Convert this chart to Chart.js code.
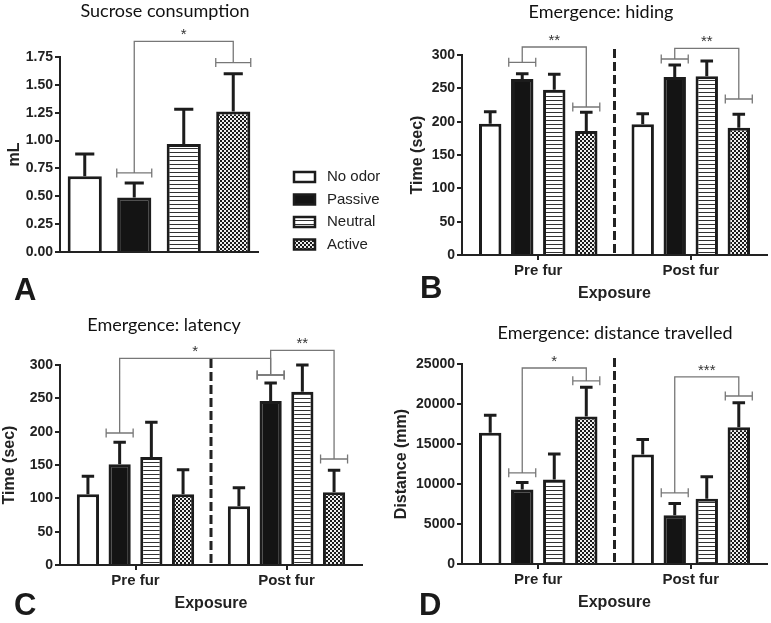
<!DOCTYPE html>
<html lang="en">
<head>
<meta charset="UTF-8" />
<title>Odor exposure – sucrose and emergence tests</title>
<script src="https://cdn.jsdelivr.net/npm/chart.js"></script>
<style>
  body { margin: 0; background: #fff; }
  .figure { position: relative; width: 771px; height: 623px; }
  .figure canvas { position: absolute; }
</style>
</head>
<body>
<div class="figure">
  <canvas id="chartA" width="385" height="310" style="left:0;top:0"></canvas>
  <canvas id="chartB" width="391" height="310" style="left:380px;top:0"></canvas>
  <canvas id="chartC" width="385" height="313" style="left:0;top:310px"></canvas>
  <canvas id="chartD" width="391" height="313" style="left:380px;top:310px"></canvas>
</div>
<script>
  const groups = ['No odor', 'Passive', 'Neutral', 'Active'];
  const exposures = ['Pre fur', 'Post fur'];

  // A - sucrose consumption (mL), one bar per group
  const sucroseMean = [0.68, 0.49, 0.97, 1.26];
  const sucroseErr = [0.20, 0.13, 0.31, 0.34];
  const sucroseTicks = [0, 0.25, 0.5, 0.75, 1, 1.25, 1.5, 1.75];

  // B - hiding time (sec), one row per group: [pre fur, post fur]
  const hidingMean = [[197, 196], [264, 267], [248, 268], [186, 191]];
  const hidingErr = [[18, 16], [8, 18], [23, 23], [28, 20]];
  const hidingTicks = [0, 50, 100, 150, 200, 250, 300];

  // C - latency (sec)
  const latencyMean = [[106, 88], [151, 246], [162, 260], [106, 109]];
  const latencyErr = [[27, 28], [33, 27], [52, 40], [37, 33]];
  const latencyTicks = [0, 50, 100, 150, 200, 250, 300];

  // D - distance travelled (mm)
  const distanceMean = [[16400, 13700], [9300, 6100], [10550, 8150], [18450, 17100]];
  const distanceErr = [[2200, 1850], [900, 1450], [3200, 2750], [3650, 3050]];
  const distanceTicks = [0, 5000, 10000, 15000, 20000, 25000];

  // significance brackets: ends are [group, exposure], levels in data units
  const sucroseSig = [{ from: [1, 0], to: [3, 0], capFrom: 0.71, capTo: 1.70, top: 1.89, label: '*' }];
  const hidingSig = [
    { from: [1, 0], to: [3, 0], capFrom: 289, capTo: 222, top: 312, label: '**' },
    { from: [1, 1], to: [3, 1], capFrom: 294, capTo: 234, top: 310, label: '**' }
  ];
  const latencySig = [
    { from: [1, 0], to: [1, 1], capFrom: 198, capTo: 285, top: 310, label: '*' },
    { from: [1, 1], to: [3, 1], capFrom: 285, capTo: 159, top: 322, label: '**' }
  ];
  const distanceSig = [
    { from: [1, 0], to: [3, 0], capFrom: 11400, capTo: 22900, top: 24500, label: '*' },
    { from: [1, 1], to: [3, 1], capFrom: 8900, capTo: 21000, top: 23400, label: '***' }
  ];

  const SANS = 'Arial, "Liberation Sans", Helvetica, sans-serif';
  Chart.defaults.font.family = SANS;
  Chart.defaults.color = '#222';

  function makePattern(w, h, draw) {
    const c = document.createElement('canvas');
    c.width = w; c.height = h;
    draw(c.getContext('2d'));
    return c.getContext('2d').createPattern(c, 'repeat');
  }
  const stripes = makePattern(1, 4, g => {
    g.fillStyle = '#fff'; g.fillRect(0, 0, 1, 4);
    g.fillStyle = '#333'; g.fillRect(0, 0, 1, 1);
  });
  const checks = makePattern(4, 4, g => {
    g.fillStyle = '#eee'; g.fillRect(0, 0, 4, 4);
    g.fillStyle = '#1a1a1a'; g.fillRect(0, 0, 2, 2); g.fillRect(2, 2, 2, 2);
  });
  const fills = ['#ffffff', '#141414', stripes, checks];

  const errorBars = {
    id: 'errorBars',
    afterDatasetsDraw(chart) {
      const ctx = chart.ctx, y = chart.scales.y;
      ctx.save();
      ctx.strokeStyle = '#1c1c1c';
      ctx.lineWidth = 3;
      chart.data.datasets.forEach((ds, i) => {
        chart.getDatasetMeta(i).data.forEach((bar, j) => {
          const top = y.getPixelForValue(ds.data[j] + ds.errors[j]);
          const half = bar.width * 0.28;
          ctx.beginPath();
          ctx.moveTo(bar.x, bar.y);
          ctx.lineTo(bar.x, top);
          ctx.moveTo(bar.x - half, top);
          ctx.lineTo(bar.x + half, top);
          ctx.stroke();
        });
      });
      ctx.restore();
    }
  };

  // titles, panel letter, divider, brackets and (for A) the legend
  function marks(cfg) {
    return {
      id: 'marks',
      afterDraw(chart) {
        const ctx = chart.ctx, xs = chart.scales.x, ys = chart.scales.y;
        ctx.save();

        if (cfg.divider) {
          const dx = (xs.getPixelForValue(0) + xs.getPixelForValue(1)) / 2;
          ctx.strokeStyle = '#222';
          ctx.lineWidth = 3;
          ctx.setLineDash([9, 4]);
          ctx.beginPath();
          ctx.moveTo(dx, ys.top - 6);
          ctx.lineTo(dx, ys.bottom);
          ctx.stroke();
          ctx.setLineDash([]);
        }

        const barAt = ([d, c]) => chart.getDatasetMeta(d).data[c];
        ctx.lineWidth = 1.3;
        ctx.strokeStyle = '#777';
        cfg.sig.forEach(s => {
          const a = barAt(s.from), b = barAt(s.to);
          const ya = ys.getPixelForValue(s.capFrom);
          const yb = ys.getPixelForValue(s.capTo);
          const yt = ys.getPixelForValue(s.top);
          ctx.beginPath();
          [[a.x, ya], [b.x, yb]].forEach(([x, y]) => {
            const h = cfg.capW / 2;
            ctx.moveTo(x - h, y); ctx.lineTo(x + h, y);
            ctx.moveTo(x - h, y - 4.5); ctx.lineTo(x - h, y + 4.5);
            ctx.moveTo(x + h, y - 4.5); ctx.lineTo(x + h, y + 4.5);
          });
          ctx.moveTo(a.x, ya);
          ctx.lineTo(a.x, yt);
          ctx.lineTo(b.x, yt);
          ctx.lineTo(b.x, yb);
          ctx.stroke();

          ctx.fillStyle = '#333';
          ctx.font = '15px ' + SANS;
          ctx.textAlign = 'center';
          ctx.textBaseline = 'alphabetic';
          const m = ctx.measureText(s.label);
          ctx.fillText(s.label, (a.x + b.x) / 2, yt - 6 - m.actualBoundingBoxDescent);
        });

        ctx.fillStyle = '#111';
        ctx.textAlign = 'center';
        ctx.textBaseline = 'alphabetic';
        ctx.font = '18px Lato, sans-serif';
        ctx.fillText(cfg.title, cfg.titleX, cfg.titleY);

        ctx.textAlign = 'left';
        ctx.font = 'bold 31px ' + SANS;
        ctx.fillStyle = '#1a1a1a';
        ctx.fillText(cfg.letter, cfg.letterX, cfg.letterY);

        if (cfg.legend) {
          ctx.font = '15px ' + SANS;
          ctx.textBaseline = 'middle';
          chart.data.datasets.forEach((ds, i) => {
            const y = 177 + i * 22.5;
            ctx.fillStyle = ds.backgroundColor;
            ctx.fillRect(294, y - 5, 21, 10);
            ctx.strokeStyle = '#1c1c1c';
            ctx.lineWidth = 2.5;
            ctx.strokeRect(294, y - 5, 21, 10);
            ctx.fillStyle = '#222';
            ctx.fillText(ds.label, 327, y);
          });
        }
        ctx.restore();
      }
    };
  }

  function panelChart(id, cfg) {
    const datasets = groups.map((g, i) => ({
      label: g,
      data: cfg.mean[i],
      errors: cfg.err[i],
      backgroundColor: fills[i],
      borderColor: '#1c1c1c',
      borderWidth: 3,
      categoryPercentage: cfg.catPct,
      barPercentage: cfg.barPct
    }));

    return new Chart(document.getElementById(id), {
      type: 'bar',
      data: { labels: cfg.labels, datasets: datasets },
      options: {
        responsive: false,
        animation: false,
        events: [],
        layout: { padding: cfg.padding },
        plugins: { legend: { display: false }, tooltip: { enabled: false } },
        scales: {
          x: {
            grid: { display: cfg.showX, drawOnChartArea: false, offset: false, tickLength: 5, color: '#222', lineWidth: 2 },
            border: { display: true, color: '#222', width: 2 },
            ticks: { display: cfg.showX, color: '#222', padding: 2, font: { size: 15, weight: 'bold' } },
            title: { display: cfg.showX, text: 'Exposure', color: '#222', padding: 0, font: { size: 16, weight: 'bold' } },
            afterFit: s => { s.height = cfg.xHeight; }
          },
          y: {
            min: 0,
            max: cfg.ticks[cfg.ticks.length - 1],
            afterBuildTicks: s => { s.ticks = cfg.ticks.map(v => ({ value: v })); },
            grid: { drawOnChartArea: false, tickLength: 5, color: '#222', lineWidth: 2 },
            border: { display: true, color: '#222', width: 2 },
            ticks: {
              color: '#222', padding: 2, font: { size: 14, weight: 'bold' },
              callback: v => cfg.decimals ? v.toFixed(cfg.decimals) : String(v)
            },
            title: { display: true, text: cfg.yTitle, color: '#222', padding: 0, font: { size: 16, weight: 'bold' } },
            afterFit: s => { s.width = cfg.yWidth; }
          }
        }
      },
      plugins: [errorBars, marks(cfg)]
    });
  }

  panelChart('chartA', {
    labels: [''], mean: sucroseMean.map(v => [v]), err: sucroseErr.map(v => [v]),
    ticks: sucroseTicks, decimals: 2, yTitle: 'mL', showX: false,
    catPct: 1, barPct: 0.69,
    padding: { left: 5, top: 57, right: 127, bottom: 58 }, yWidth: 55, xHeight: 0,
    sig: sucroseSig, capW: 35, divider: false, legend: true,
    title: 'Sucrose consumption', titleX: 165, titleY: 17,
    letter: 'A', letterX: 14, letterY: 300
  });

  panelChart('chartB', {
    labels: exposures, mean: hidingMean, err: hidingErr,
    ticks: hidingTicks, yTitle: 'Time (sec)', showX: true,
    catPct: 0.84, barPct: 0.7,
    padding: { left: 28, top: 55, right: 4, bottom: 7 }, yWidth: 54, xHeight: 48,
    sig: hidingSig, capW: 27, divider: true,
    title: 'Emergence: hiding', titleX: 221, titleY: 18,
    letter: 'B', letterX: 40, letterY: 298
  });

  panelChart('chartC', {
    labels: exposures, mean: latencyMean, err: latencyErr,
    ticks: latencyTicks, yTitle: 'Time (sec)', showX: true,
    catPct: 0.84, barPct: 0.7,
    padding: { left: 0, top: 55, right: 23, bottom: 10 }, yWidth: 60, xHeight: 48,
    sig: latencySig, capW: 27, divider: true,
    title: 'Emergence: latency', titleX: 164, titleY: 21,
    letter: 'C', letterX: 14, letterY: 305
  });

  panelChart('chartD', {
    labels: exposures, mean: distanceMean, err: distanceErr,
    ticks: distanceTicks, yTitle: 'Distance (mm)', showX: true,
    catPct: 0.84, barPct: 0.7,
    padding: { left: 12, top: 54, right: 4, bottom: 11 }, yWidth: 70, xHeight: 48,
    sig: distanceSig, capW: 27, divider: true,
    title: 'Emergence: distance travelled', titleX: 235, titleY: 29,
    letter: 'D', letterX: 39, letterY: 305
  });
</script>
</body>
</html>
